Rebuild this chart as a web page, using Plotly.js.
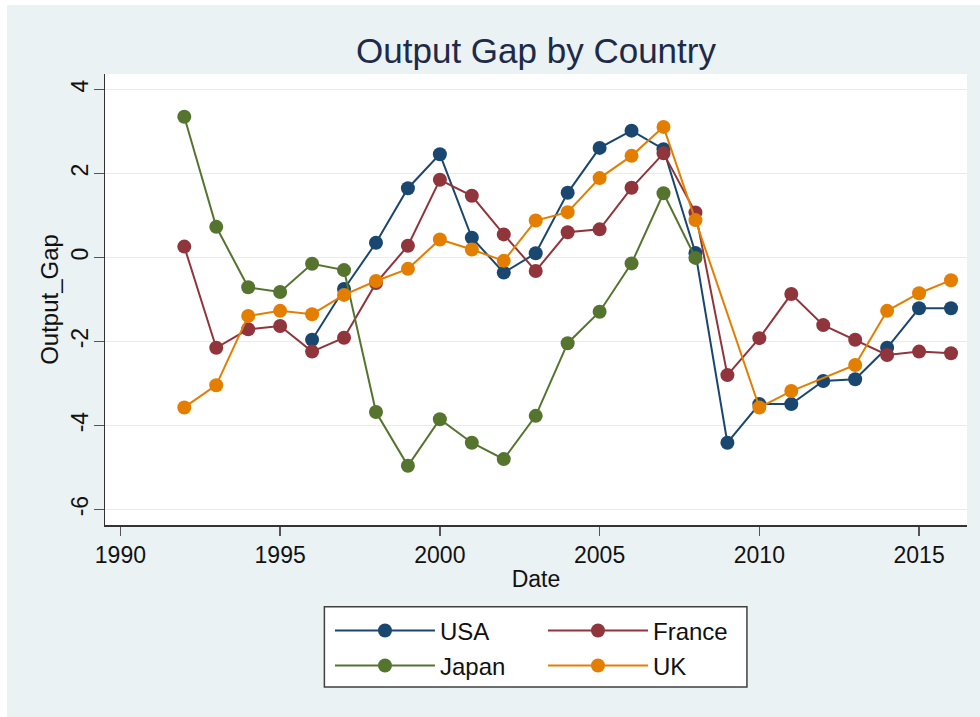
<!DOCTYPE html>
<html><head><meta charset="utf-8">
<script src="https://cdn.plot.ly/plotly-3.0.1.min.js"></script>
<style>
html,body{margin:0;padding:0;background:#ffffff;width:980px;height:717px;overflow:hidden;}
#chart{position:absolute;left:7px;top:5px;width:973px;height:712px;}
</style></head><body><div id="chart"></div>
<script>
// Data
const years  = [1992,1993,1994,1995,1996,1997,1998,1999,2000,2001,2002,2003,2004,2005,2006,2007,2008,2009,2010,2011,2012,2013,2014,2015,2016];
const usa    = [null,null,null,null,-1.96,-0.75,0.35,1.65,2.46,0.47,-0.36,0.10,1.54,2.61,3.02,2.58,0.11,-4.41,-3.49,-3.49,-2.94,-2.90,-2.15,-1.21,-1.21];
const france = [0.26,-2.15,-1.71,-1.63,-2.24,-1.91,-0.61,0.28,1.85,1.47,0.55,-0.32,0.60,0.67,1.66,2.48,1.07,-2.80,-1.92,-0.87,-1.61,-1.96,-2.32,-2.24,-2.28];
const japan  = [3.35,0.73,-0.71,-0.82,-0.15,-0.30,-3.68,-4.96,-3.85,-4.41,-4.80,-3.77,-2.04,-1.29,-0.14,1.53,-0.01,null,null,null,null,null,null,null,null];
const uk     = [-3.57,-3.04,-1.39,-1.27,-1.35,-0.89,-0.56,-0.27,0.43,0.19,-0.08,0.88,1.08,1.89,2.42,3.11,0.89,null,-3.57,-3.18,null,-2.56,-1.27,-0.85,-0.54];
const seriesNames = ['USA','France','Japan','UK'];
const xTicks = [1990,1995,2000,2005,2010,2015];
const yTicks = [-6,-4,-2,0,2,4];

const colors = {USA:'#1a476f', France:'#90353b', Japan:'#55752f', UK:'#e37e00'};
const FONT = 'Liberation Sans, Arial, sans-serif';

function mk(name, ys, legendId) {
  return {
    x: years, y: ys, name: name, type: 'scatter', mode: 'lines+markers',
    connectgaps: true,
    line: {color: colors[name], width: 2},
    marker: {color: colors[name], size: 14},
    legend: legendId
  };
}
const data = [
  mk(seriesNames[0], usa, 'legend'),
  mk(seriesNames[1], france, 'legend'),
  mk(seriesNames[2], japan, 'legend2'),
  mk(seriesNames[3], uk, 'legend2')
];

const legendCommon = {
  orientation: 'h', xanchor: 'left', yanchor: 'top',
  bgcolor: 'rgba(0,0,0,0)', borderwidth: 0,
  font: {family: FONT, size: 24, color: '#111111'},
  itemwidth: 100, entrywidth: 98, entrywidthmode: 'pixels',
  itemclick: false, itemdoubleclick: false
};

const layout = {
  width: 973, height: 712,
  paper_bgcolor: '#eaf2f3', plot_bgcolor: '#ffffff',
  margin: {l: 98, r: 13, t: 69, b: 192, pad: 0},
  font: {family: FONT, color: '#111111'},
  title: {text: 'Output Gap by Country', x: 0.5, xref: 'paper', y: 0.9357, yref: 'container', yanchor: 'middle',
          font: {family: FONT, size: 35, color: '#1e2a4a'}},
  xaxis: {
    range: [1989.518, 2016.5], tickvals: xTicks, ticktext: xTicks.map(String),
    showgrid: false, zeroline: false, showline: true, linecolor: '#333333', linewidth: 1.5,
    ticks: 'outside', ticklen: 9, tickwidth: 1.5, tickcolor: '#555555',
    tickfont: {family: FONT, size: 23, color: '#111111'},
    title: {text: 'Date', font: {family: FONT, size: 23, color: '#111111'}, standoff: 4},
    fixedrange: true
  },
  yaxis: {
    range: [-6.369, 4.369], tickvals: yTicks, ticktext: yTicks.map(String),
    showgrid: true, gridcolor: '#e4edef', gridwidth: 1.5, zeroline: false,
    showline: true, linecolor: '#333333', linewidth: 1.5,
    ticks: 'outside', ticklen: 10, tickwidth: 1.5, tickcolor: '#555555', tickangle: -90,
    ticklabelstandoff: -4,
    tickfont: {family: FONT, size: 23, color: '#111111'},
    title: {text: 'Output_Gap', font: {family: FONT, size: 24, color: '#111111'}, standoff: 2},
    fixedrange: true
  },
  legend: Object.assign({}, legendCommon, {x: 0.261, y: -0.1849}),
  legend2: Object.assign({}, legendCommon, {x: 0.261, y: -0.2625}),
  shapes: [{
    type: 'rect', xref: 'paper', yref: 'paper', layer: 'above',
    x0: 0.2545, x1: 0.7447, y0: -0.1812, y1: -0.3592,
    line: {color: '#404040', width: 1.5}, fillcolor: '#ffffff'
  }],
  showlegend: true
};

Plotly.newPlot('chart', data, layout, {displayModeBar: false, staticPlot: true});
</script>
</body></html>
